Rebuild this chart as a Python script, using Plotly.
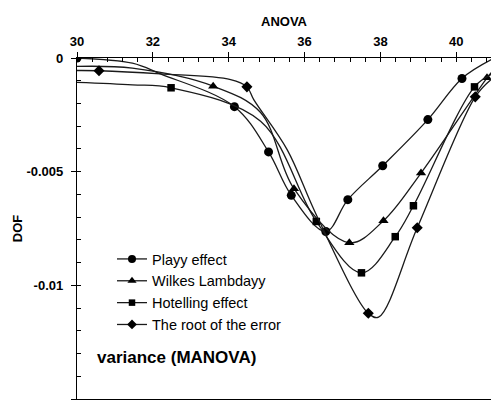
import plotly.graph_objects as go

# ---------------- data ----------------
x_tickvals = [30, 32, 34, 36, 38, 40]
y_tickvals = [0, -0.005, -0.01, -0.015]
y_ticktext = ["0", "-0.005", "-0.01", "-0.015"]

series_names = ["Playy effect", "Wilkes Lambdayy", "Hotelling effect", "The root of the error"]
series_symbols = ["circle", "triangle-up", "square", "diamond"]
series_sizes = [9, 9, 7.5, 8.5]

# marked points
playy_x = [30, 34.15, 35.05, 35.65, 36.56, 37.14, 38.06, 39.25, 40.15]
playy_y = [0, -0.00214, -0.00413, -0.00604, -0.00763, -0.00623, -0.00474, -0.00271, -0.00090]
wilks_x = [33.59, 35.72, 37.18, 38.08, 39.07, 40.81]
wilks_y = [-0.00124, -0.00575, -0.00813, -0.00716, -0.00506, -0.00087]
hotel_x = [32.48, 36.31, 37.50, 38.39, 38.87, 40.48]
hotel_y = [-0.00131, -0.00719, -0.00945, -0.00786, -0.00650, -0.00127]
root_x = [30.58, 34.48, 37.68, 38.97, 40.50]
root_y = [-0.00056, -0.00127, -0.01123, -0.00747, -0.00171]

# unmarked points the smooth curves also pass through
playy_cx = [31.46, 32.2, 40.95]
playy_cy = [-0.00023, -0.0007, -0.00005]
wilks_cx = [30, 31.46, 34.84, 40.95]
wilks_cy = [-0.00037, -0.00045, -0.0024, -0.0006]
hotel_cx = [30, 31.46, 34.84, 40.95]
hotel_cy = [-0.00107, -0.00118, -0.00278, -0.0007]
root_cx = [30, 32.2, 34.05, 34.66, 35.54, 36.33, 37.95, 40.95]
root_cy = [-0.00055, -0.0007, -0.00095, -0.00183, -0.00403, -0.00697, -0.0114, -0.0009]

markers = [(playy_x, playy_y), (wilks_x, wilks_y), (hotel_x, hotel_y), (root_x, root_y)]
curves = [(playy_cx, playy_cy), (wilks_cx, wilks_cy), (hotel_cx, hotel_cy), (root_cx, root_cy)]

FONT = "Arial, 'Liberation Sans', sans-serif"
LINE_COLOR = "#1a1a1a"

fig = go.Figure()
for name, sym, sz, (mx, my), (cx, cy) in zip(series_names, series_symbols, series_sizes, markers, curves):
    pts = sorted(zip(list(mx) + list(cx), list(my) + list(cy)))
    fig.add_trace(go.Scatter(
        x=[p[0] for p in pts], y=[p[1] for p in pts], mode="lines",
        line=dict(color=LINE_COLOR, width=1.3, shape="spline", smoothing=1.0),
        showlegend=False, hoverinfo="skip"))
    fig.add_trace(go.Scatter(
        x=mx, y=my, mode="markers",
        marker=dict(symbol=sym, size=sz, color="black"),
        showlegend=False))
    # legend entry
    fig.add_trace(go.Scatter(
        x=[None], y=[None], mode="lines+markers", name=name,
        line=dict(color=LINE_COLOR, width=1.3),
        marker=dict(symbol=sym, size=sz - 1, color="black")))

# invisible trace for overlay axes (inner half of the crossing ticks)
fig.add_trace(go.Scatter(x=[None], y=[None], xaxis="x2", yaxis="y2", showlegend=False))

xr = [30, 40.915]
yr = [-0.015, 0]
tickfont = dict(family=FONT, size=13, color="black", weight="bold")

fig.update_layout(
    width=491, height=402,
    margin=dict(l=77, r=0, t=58, b=3, autoexpand=False),
    paper_bgcolor="white", plot_bgcolor="white",
    font=dict(family=FONT, color="black"),
    xaxis=dict(
        range=xr, side="top", tickvals=x_tickvals, automargin=False,
        showgrid=False, zeroline=False,
        showline=True, linecolor="black", linewidth=1.3, mirror=True,
        ticks="outside", ticklen=5, tickwidth=1.2, tickcolor="black",
        minor=dict(ticks="inside", ticklen=3.5, dtick=0.4, tick0=30, tickcolor="black", tickwidth=1),
        tickfont=tickfont, ticklabelstandoff=1,
        title=dict(text="ANOVA", font=dict(family=FONT, size=13, color="black", weight="bold"), standoff=4),
    ),
    yaxis=dict(
        range=yr, tickvals=y_tickvals, ticktext=y_ticktext, automargin=False,
        showgrid=False, zeroline=False,
        showline=True, linecolor="black", linewidth=1.3, mirror=False,
        ticks="outside", ticklen=5, tickwidth=1.2, tickcolor="black",
        minor=dict(ticks="inside", ticklen=4, dtick=0.001, tick0=0, tickcolor="black", tickwidth=1),
        tickfont=tickfont, ticklabelstandoff=5,
        title=dict(text="DOF", font=dict(family=FONT, size=13, color="black", weight="bold"), standoff=0),
    ),
    xaxis2=dict(range=xr, overlaying="x", side="top", tickvals=x_tickvals, automargin=False,
                ticks="inside", ticklen=3.5, tickwidth=1.2, tickcolor="black",
                showticklabels=False, showgrid=False, zeroline=False, showline=False),
    yaxis2=dict(range=yr, overlaying="y", side="left", tickvals=y_tickvals, automargin=False,
                ticks="inside", ticklen=3.5, tickwidth=1.2, tickcolor="black",
                showticklabels=False, showgrid=False, zeroline=False, showline=False),
    legend=dict(
        x=(112 - 77) / 414, y=1 - (243 - 58) / 341, xanchor="left", yanchor="top",
        bgcolor="rgba(0,0,0,0)", borderwidth=0,
        font=dict(family=FONT, size=14.5, color="black"),
    ),
    annotations=[dict(
        text="variance (MANOVA)", xref="paper", yref="paper",
        x=(95 - 77) / 414, y=1 - (357.7 - 58) / 341, xanchor="left", yanchor="middle",
        showarrow=False, font=dict(family=FONT, size=17, color="black", weight="bold"))],
)

fig.write_html("out.html", config={"displayModeBar": False},
               post_script="document.body.style.margin='0';")
